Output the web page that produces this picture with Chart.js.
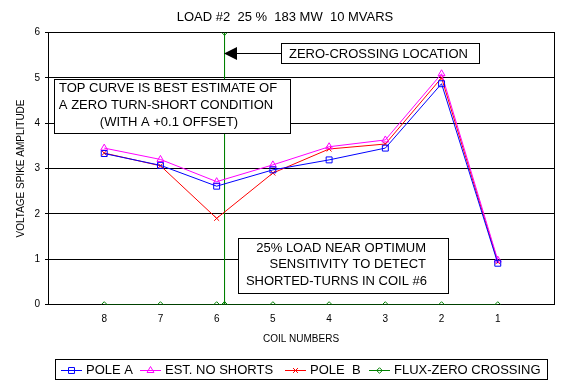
<!DOCTYPE html>
<html>
<head>
<meta charset="utf-8">
<script src="https://cdn.jsdelivr.net/npm/chart.js@4/dist/chart.umd.min.js"></script>
<style>
  html, body { margin: 0; padding: 0; background: #fff; }
  #chart { display: block; }
</style>
</head>
<body>
<canvas id="chart" width="572" height="388"></canvas>
<script>
// Coil numbers as they run left to right (coil 8 sits at axis value 1)
const coils = ['8', '7', '6', '5', '4', '3', '2', '1'];
const poleA = [3.33, 3.07, 2.61, 2.97, 3.19, 3.45, 4.87, 0.91];
const estNoShorts = [3.45, 3.20, 2.71, 3.08, 3.48, 3.63, 5.09, 0.98];
const poleB = [3.34, 3.06, 1.90, 2.90, 3.43, 3.54, 5.00, 0.94];
const fluxZero = [0, 0, 0, 0, 0, 0, 0, 0];
// flux zero crossing, just past coil 6, drawn as a vertical spike
const crossingAt = 3.14;
const crossingSpan = [0, 6];
const yTicks = [0, 1, 2, 3, 4, 5, 6];

const FONT = '"Liberation Sans", Arial, sans-serif';
Chart.defaults.font.family = FONT;
Chart.defaults.color = '#000';

const pts = arr => arr.map((v, i) => ({ x: i + 1, y: v }));
const fluxPts = pts(fluxZero);
const fluxData = [
    ...fluxPts.slice(0, 3),
    { x: crossingAt, y: crossingSpan[0] },
    { x: crossingAt, y: crossingSpan[1] },
    { x: crossingAt, y: crossingSpan[0] },
    ...fluxPts.slice(3)
];

function series(label, data, color, style, radius) {
    return {
        label: label, data: data,
        borderColor: color, backgroundColor: color, borderWidth: 1,
        pointStyle: style, pointRadius: radius, pointBorderWidth: 1,
        pointBorderColor: color, pointBackgroundColor: 'rgba(0,0,0,0)',
        tension: 0
    };
}

// Legend boxes, annotation boxes, plot frame and title drawn by hand
const decor = {
    id: 'decor',
    beforeDatasetsDraw(chart) {
        const { ctx, chartArea: a } = chart;
        const x1 = Math.floor(a.left) + 0.5, y1 = Math.floor(a.top) + 0.5;
        const x2 = Math.floor(a.right) + 0.5, y2 = Math.floor(a.bottom) + 0.5;
        ctx.save();
        ctx.strokeStyle = '#000';
        ctx.lineWidth = 1;
        ctx.strokeRect(x1, y1, x2 - x1, y2 - y1);
        ctx.restore();
    },
    afterDatasetsDraw(chart) {
        const ctx = chart.ctx;
        const box = (x, y, w, h) => {
            ctx.fillStyle = '#fff';
            ctx.fillRect(x, y, w, h);
            ctx.strokeStyle = '#000';
            ctx.lineWidth = 1;
            ctx.strokeRect(x + 0.5, y + 0.5, w, h);
        };
        ctx.save();
        ctx.font = '13px ' + FONT;
        ctx.textBaseline = 'middle';

        // zero crossing label with arrow
        box(281, 43, 198, 20);
        ctx.fillStyle = '#000';
        ctx.textAlign = 'left';
        ctx.fillText('ZERO-CROSSING LOCATION', 289, 54);
        ctx.beginPath();
        ctx.moveTo(236, 53.5);
        ctx.lineTo(281, 53.5);
        ctx.stroke();
        ctx.beginPath();
        ctx.moveTo(224, 53.5);
        ctx.lineTo(237, 47);
        ctx.lineTo(237, 60);
        ctx.closePath();
        ctx.fill();

        box(54, 79, 236, 54);
        ctx.fillStyle = '#000';
        ctx.textAlign = 'center';
        ctx.fillText('TOP CURVE IS BEST ESTIMATE OF', 168, 88.5);
        ctx.fillText('A ZERO TURN-SHORT CONDITION', 166, 105.5);
        ctx.fillText('(WITH A +0.1 OFFSET)', 169, 122);

        box(238, 238, 210, 55);
        ctx.fillStyle = '#000';
        ctx.textAlign = 'right';
        ctx.fillText('25% LOAD NEAR OPTIMUM', 426, 248);
        ctx.fillText('SENSITIVITY TO DETECT', 426, 264.5);
        ctx.fillText('SHORTED-TURNS IN COIL #6', 427, 281);
        ctx.restore();
    },
    afterDraw(chart) {
        const ctx = chart.ctx;
        ctx.save();
        ctx.fillStyle = '#000';
        ctx.font = '13px ' + FONT;
        ctx.textAlign = 'center';
        ctx.textBaseline = 'middle';
        ctx.fillText('LOAD #2  25 %  183 MW  10 MVARS', 285, 17);

        // legend
        ctx.strokeStyle = '#000';
        ctx.lineWidth = 1;
        ctx.strokeRect(55.5, 359.5, 492, 20);
        const legendX = [61, 140, 285, 369];
        const y = 370.5;
        chart.data.datasets.forEach((ds, i) => {
            const x0 = legendX[i];
            ctx.strokeStyle = ds.borderColor;
            ctx.beginPath();
            ctx.moveTo(x0, y);
            ctx.lineTo(x0 + 21, y);
            ctx.stroke();
            ctx.fillStyle = 'rgba(0,0,0,0)';
            Chart.helpers.drawPoint(ctx, { pointStyle: ds.pointStyle, radius: ds.pointRadius, rotation: 0, borderWidth: 1 }, x0 + 10.5, y);
            ctx.fillStyle = '#000';
            ctx.textAlign = 'left';
            ctx.fillText(ds.label, x0 + 25, y);
        });
        ctx.restore();
    }
};

new Chart(document.getElementById('chart'), {
    type: 'line',
    data: {
        datasets: [
            series('POLE A', pts(poleA), '#0000FF', 'rect', 4.2),
            series('EST. NO SHORTS', pts(estNoShorts), '#FF00FF', 'triangle', 4),
            series('POLE  B', pts(poleB), '#FF0000', 'crossRot', 3.5),
            series('FLUX-ZERO CROSSING', fluxData, '#008000', 'rectRot', 2.8)
        ]
    },
    options: {
        responsive: false,
        animation: false,
        devicePixelRatio: 1,
        events: [],
        layout: { padding: { top: 32.5, right: 18, left: 0, bottom: 0 } },
        plugins: {
            legend: { display: false },
            title: { display: false },
            tooltip: { enabled: false }
        },
        scales: {
            x: {
                type: 'linear', min: 0, max: 9,
                afterFit: s => { s.height = 83.5; },
                afterBuildTicks: s => { s.ticks = coils.map((_, i) => ({ value: i + 1 })); },
                ticks: {
                    callback: v => coils[v - 1],
                    padding: 9, maxRotation: 0, autoSkip: false,
                    font: { size: 10 }
                },
                grid: { display: false, drawTicks: false },
                border: { color: '#000' },
                title: {
                    display: true, text: 'COIL NUMBERS',
                    font: { size: 10 }, padding: { top: 0, bottom: 43 }
                }
            },
            y: {
                min: 0, max: 6,
                afterFit: s => { s.width = 48; },
                afterBuildTicks: s => { s.ticks = yTicks.map(v => ({ value: v })); },
                ticks: { padding: 5, font: { size: 10 } },
                grid: { color: '#000', lineWidth: 1, tickLength: 3 },
                border: { color: '#000' },
                title: {
                    display: true, text: 'VOLTAGE SPIKE AMPLITUDE',
                    font: { size: 10 }, padding: { top: 15, bottom: 0 }
                }
            }
        }
    },
    plugins: [decor]
});
</script>
</body>
</html>
